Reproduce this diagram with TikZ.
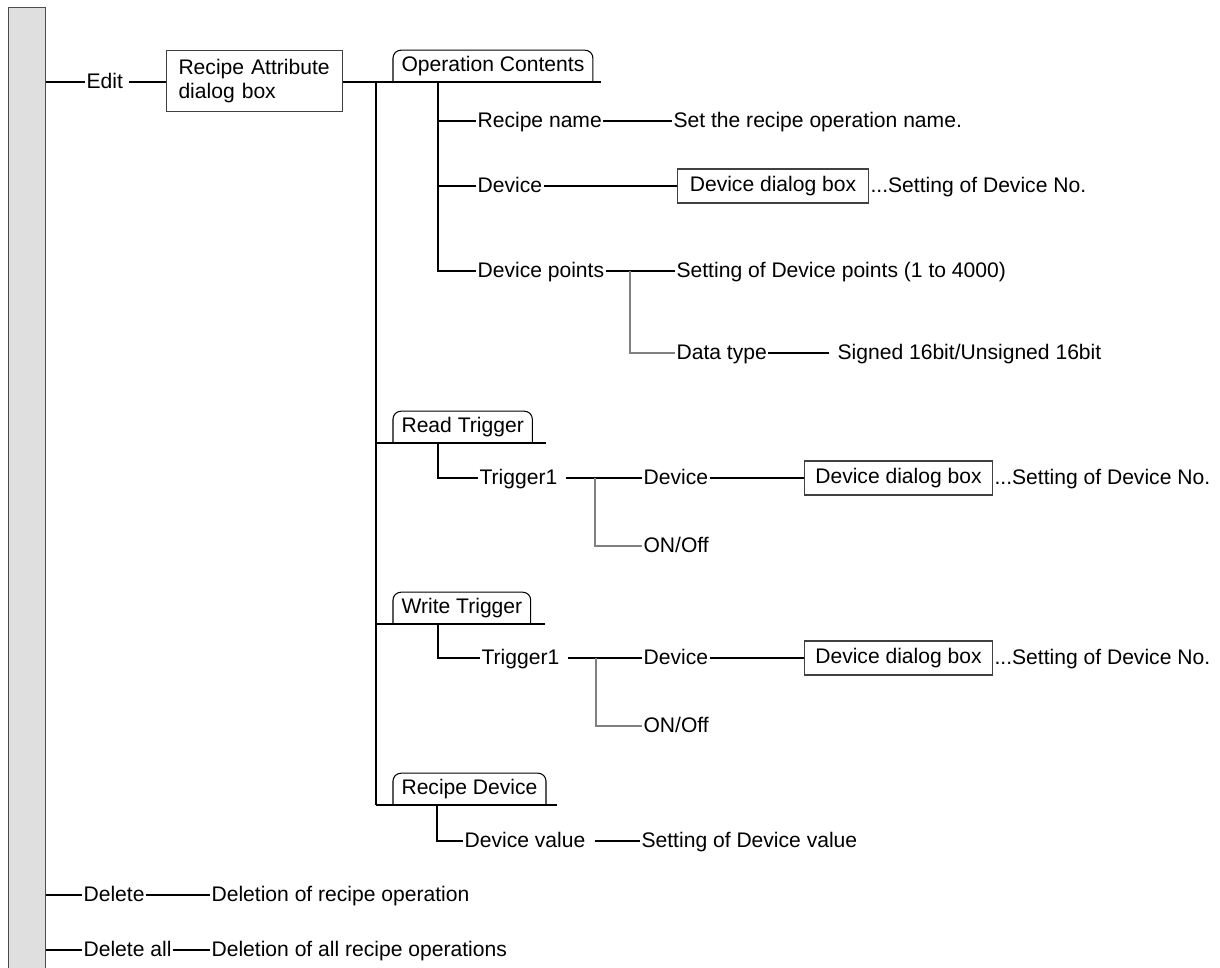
\documentclass[tikz,border=0pt]{standalone}
\usepackage{fontspec}
\setmainfont{Liberation Sans}
\usepackage{tikz}
\usetikzlibrary{positioning, calc}

\begin{document}
\begin{tikzpicture}[x=0.02cm, y=-0.02cm, line width=0.6pt,
    every node/.style={font=\fontsize{12}{14}\selectfont},
    lbl/.style={anchor=west, inner xsep=0.6pt, inner ysep=0pt, text height=8.6pt, text depth=1.7pt},
    box/.style={draw=black!75, anchor=west},
    devbox/.style={box, minimum height=0.68cm, text height=8.6pt, text depth=2.5pt},
    tab/.style={anchor=south west, inner xsep=0.16cm, inner ysep=3.2pt, text height=8.6pt, text depth=2.5pt},
    tabline/.style={rounded corners=4.5pt},
    faint/.style={gray}]
\useasboundingbox (0,0) rectangle (1220,967);

% Side bar
\node[draw=black!70, fill=gray!25, anchor=north west, inner sep=0pt,
      minimum width=0.74cm, minimum height=19.6cm] (bar) at (8,7) {};

% Edit
\node[lbl] (edit) at (85,82) {Edit};
\node[box, inner xsep=0.24cm, text width=3.04cm, minimum height=1.22cm, align=left] (attr) at (166,81) {Recipe Attribute\\dialog box};
\draw (bar.east |- edit.west) -- (edit.west);
\draw[shorten <=0.1cm] (edit) -- (attr.west |- edit);

% Operation Contents
\node[tab] (opc) at (393,82) {Operation Contents};
\draw[tabline] (opc.south west) -- (opc.north west) -- (opc.north east) -- (opc.south east);
\coordinate (opcend) at ($(opc.south east)+(8,0)$);
\draw (attr.east |- opcend) -- (opcend);
\coordinate (spine) at (376,82);
\coordinate (opcsub) at (438,82);

\node[lbl] (recname) at (476,121) {Recipe name};
\node[lbl] (recset) at (672,121) {Set the recipe operation name.};
\draw (opcsub |- recname) -- (recname.west);
\draw (recname) -- (recset);

\node[lbl] (dev1) at (476,186) {Device};
\node[devbox, minimum width=3.82cm] (devbox1) at (677,186) {Device dialog box};
\node[lbl, inner xsep=0pt] (devno1) at (870,186) {...Setting of Device No.};
\draw (opcsub |- dev1) -- (dev1.west);
\draw (dev1) -- (devbox1);

\node[lbl] (devpts) at (476,271) {Device points};
\node[lbl] (ptset) at (675,271) {Setting of Device points (1 to 4000)};
\draw (opcsub) |- (devpts.west);
\draw (devpts) -- (ptset);

\coordinate (ptsfork) at (630,271);
\node[lbl] (dtype) at (675,353) {Data type};
\node[lbl] (dtset) at (836,353) {Signed 16bit/Unsigned 16bit};
\draw[faint] (ptsfork) |- (dtype.west);
\draw[shorten >=0.14cm] (dtype) -- (dtset);

% Read Trigger
\node[tab] (rtrig) at (393,443) {Read Trigger};
\draw[tabline] (rtrig.south west) -- (rtrig.north west) -- (rtrig.north east) -- (rtrig.south east);
\draw (spine |- rtrig.south) -- ($(rtrig.south east)+(14,0)$);
\coordinate (rsub) at (438,443);

\node[lbl] (rt1) at (478,478) {Trigger1};
\node[lbl] (rtdev) at (642,478) {Device};
\node[devbox, minimum width=3.76cm] (rtbox) at (804,478) {Device dialog box};
\node[lbl, inner xsep=0pt] (rtno) at (994,478) {...Setting of Device No.};
\draw (rsub) |- (rt1.west);
\draw[shorten <=0.14cm] (rt1) -- (rtdev);
\draw (rtdev) -- (rtbox);

\coordinate (rtfork) at (595,478);
\node[lbl] (rton) at (642,546) {ON/Off};
\draw[faint] (rtfork) |- (rton.west);

% Write Trigger
\node[tab] (wtrig) at (393,624) {Write Trigger};
\draw[tabline] (wtrig.south west) -- (wtrig.north west) -- (wtrig.north east) -- (wtrig.south east);
\draw (spine |- wtrig.south) -- ($(wtrig.south east)+(14,0)$);
\coordinate (wsub) at (438,624);

\node[lbl] (wt1) at (480,658) {Trigger1};
\node[lbl] (wtdev) at (642,658) {Device};
\node[devbox, minimum width=3.76cm] (wtbox) at (804,658) {Device dialog box};
\node[lbl, inner xsep=0pt] (wtno) at (994,658) {...Setting of Device No.};
\draw (wsub) |- (wt1.west);
\draw[shorten <=0.14cm] (wt1) -- (wtdev);
\draw (wtdev) -- (wtbox);

\coordinate (wtfork) at (596,658);
\node[lbl] (wton) at (642,726) {ON/Off};
\draw[faint] (wtfork) |- (wton.west);

% Recipe Device
\node[tab] (rcdev) at (393,805) {Recipe Device};
\draw[tabline] (rcdev.south west) -- (rcdev.north west) -- (rcdev.north east) -- (rcdev.south east);
\draw (spine |- rcdev.south) -- ($(rcdev.south east)+(11,0)$);
\coordinate (rcsub) at (437,805);

\node[lbl] (devval) at (463,841) {Device value};
\node[lbl] (valset) at (640,841) {Setting of Device value};
\draw (rcsub) |- (devval.west);
\draw[shorten <=0.16cm] (devval) -- (valset);

% main spine
\draw (spine) -- (spine |- rcdev.south);

% Delete
\node[lbl] (del) at (82,895) {Delete};
\node[lbl] (delset) at (210,895) {Deletion of recipe operation};
\draw (bar.east |- del.west) -- (del.west);
\draw (del) -- (delset);

\node[lbl] (delall) at (82,950) {Delete all};
\node[lbl] (delallset) at (210,950) {Deletion of all recipe operations};
\draw (bar.east |- delall.west) -- (delall.west);
\draw (delall) -- (delallset);
\end{tikzpicture}
\end{document}
